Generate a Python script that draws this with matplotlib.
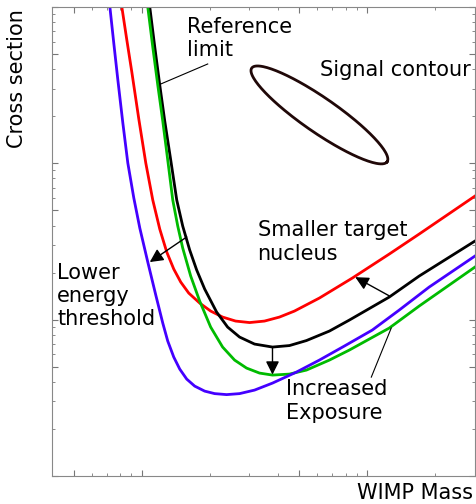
import numpy as np
import matplotlib
matplotlib.use('Agg')
import matplotlib.pyplot as plt
from matplotlib.ticker import LogLocator, NullFormatter

# WIMP mass in GeV, cross section in units of 1e-45 cm^2
blue_mass = [7.222, 7.522, 7.834, 8.243, 8.673, 9.220, 9.801, 10.632, 11.536, 12.389,
             13.035, 13.861, 14.733, 15.819, 17.164, 19.003, 21.039, 23.771, 27.137,
             31.615, 37.973, 48.49, 61.29, 79.07, 105.15, 138.45, 187.9, 300]
blue_xs = [100, 57.99, 34.12, 18.11, 10.04, 5.998, 3.855, 2.336, 1.437, 0.9512,
           0.7297, 0.5764, 0.4830, 0.4168, 0.3758, 0.3491, 0.3365, 0.3316, 0.3365,
           0.3544, 0.3929, 0.4621, 0.5514, 0.6779, 0.8580, 1.152, 1.616, 2.553]

red_mass = [8.159, 8.585, 9.034, 9.702, 10.419, 11.188, 12.015, 12.903, 13.861, 14.883,
            16.145, 18.060, 20.201, 22.822, 26.053, 30.047, 35.005, 40.779, 47.512,
            61.29, 85.79, 125.03, 169.7, 300]
red_xs = [100, 61.50, 38.38, 19.20, 10.04, 5.824, 3.799, 2.708, 2.107, 1.740,
          1.480, 1.277, 1.135, 1.039, 0.9796, 0.9582, 0.9796, 1.039, 1.135,
          1.375, 1.846, 2.628, 3.529, 6.177]

black_mass = [10.851, 11.419, 12.015, 12.642, 13.439, 14.290, 15.187, 16.310, 17.516,
              19.003, 21.472, 24.015, 27.137, 31.615, 37.973, 45.153, 53.693, 67.88,
              83.21, 125.03, 169.7, 300]
black_xs = [100, 55.48, 31.69, 18.65, 10.50, 5.824, 3.970, 2.789, 2.077,
            1.570, 1.118, 0.8966, 0.7739, 0.6981, 0.6680, 0.6829, 0.7351, 0.8454,
            0.9941, 1.395, 1.901, 3.184]

green_mass = [10.632, 11.188, 11.773, 12.389, 13.035, 13.721, 14.437, 15.187, 16.477,
              18.060, 20.201, 22.822, 25.789, 29.142, 33.267, 37.973, 45.153, 53.693,
              67.88, 83.21, 125.03, 169.7, 300]
green_xs = [100, 55.48, 31.69, 18.65, 10.50, 5.824, 3.970, 2.872, 1.901,
            1.315, 0.8966, 0.6680, 0.5514, 0.4901, 0.4553, 0.4421, 0.4486, 0.4759,
            0.5514, 0.6392, 0.8835, 1.222, 2.171]

# signal region: centre and half-axes in decades (log10 mass, log10 xs)
sig_center = (61.3, 20.4)
sig_major = (0.30, -0.30)
sig_minor = (-0.045, -0.09)

fig = plt.figure(figsize=(4.76, 5.04), dpi=100)
ax = fig.add_axes([52/476, 28/504, 423/476, 469/504])

ax.plot(red_mass, red_xs, color='#ff0000', lw=2)
ax.plot(black_mass, black_xs, color='black', lw=2)
ax.plot(green_mass, green_xs, color='#00bb00', lw=2)
ax.plot(blue_mass, blue_xs, color='#4400ff', lw=2)

t = np.linspace(0, 2*np.pi, 200)
lx = np.log10(sig_center[0]) + sig_major[0]*np.cos(t) + sig_minor[0]*np.sin(t)
ly = np.log10(sig_center[1]) + sig_major[1]*np.cos(t) + sig_minor[1]*np.sin(t)
ax.plot(10**lx, 10**ly, color='#200808', lw=2)

ax.set_xscale('log')
ax.set_yscale('log')
ax.set_xlim(4, 300)
ax.set_ylim(0.1, 100)

for axis in (ax.xaxis, ax.yaxis):
    axis.set_major_locator(LogLocator(base=10, subs=(1.0, 5.0)))
    axis.set_minor_locator(LogLocator(base=10, subs=(2, 3, 4, 6, 7, 8, 9)))
    axis.set_major_formatter(NullFormatter())
    axis.set_minor_formatter(NullFormatter())
ax.tick_params(which='both', direction='in', top=True, right=True, color='#777777')
ax.tick_params(which='major', length=4, width=0.8)
ax.tick_params(which='minor', length=2, width=0.6)
for sp in ax.spines.values():
    sp.set_color('#888888')
    sp.set_linewidth(0.8)

fs = 15
arrow = dict(arrowstyle='-|>', color='black', lw=1, mutation_scale=20,
             shrinkA=0, shrinkB=0)
ax.annotate('', xy=(10.851, 2.336), xytext=(15.82, 3.38), arrowprops=arrow)
ax.annotate('', xy=(88.4, 1.87), xytext=(125.0, 1.42), arrowprops=arrow)
ax.annotate('', xy=(37.97, 0.445), xytext=(37.97, 0.668), arrowprops=arrow)
ax.plot([19.6, 12.138], [43.2, 32.17], color='black', lw=0.8)
ax.plot([104.1, 127.6], [0.429, 0.884], color='black', lw=0.8)

ax.text(0.318, 0.932, 'Reference\nlimit', transform=ax.transAxes, fontsize=fs, va='center', ha='left')
ax.text(0.634, 0.865, 'Signal contour', transform=ax.transAxes, fontsize=fs, va='center', ha='left')
ax.text(0.486, 0.499, 'Smaller target\nnucleus', transform=ax.transAxes, fontsize=fs, va='center', ha='left')
ax.text(0.012, 0.384, 'Lower\nenergy\nthreshold', transform=ax.transAxes, fontsize=fs, va='center', ha='left')
ax.text(0.554, 0.160, 'Increased\nExposure', transform=ax.transAxes, fontsize=fs, va='center', ha='left')

fig.text(17/476, 1 - 79/504, 'Cross section', rotation=90, fontsize=fs, va='center', ha='center')
fig.text(473/476, 1 - 493/504, 'WIMP Mass', fontsize=fs, va='center', ha='right')

fig.savefig('out.png', dpi=100)
